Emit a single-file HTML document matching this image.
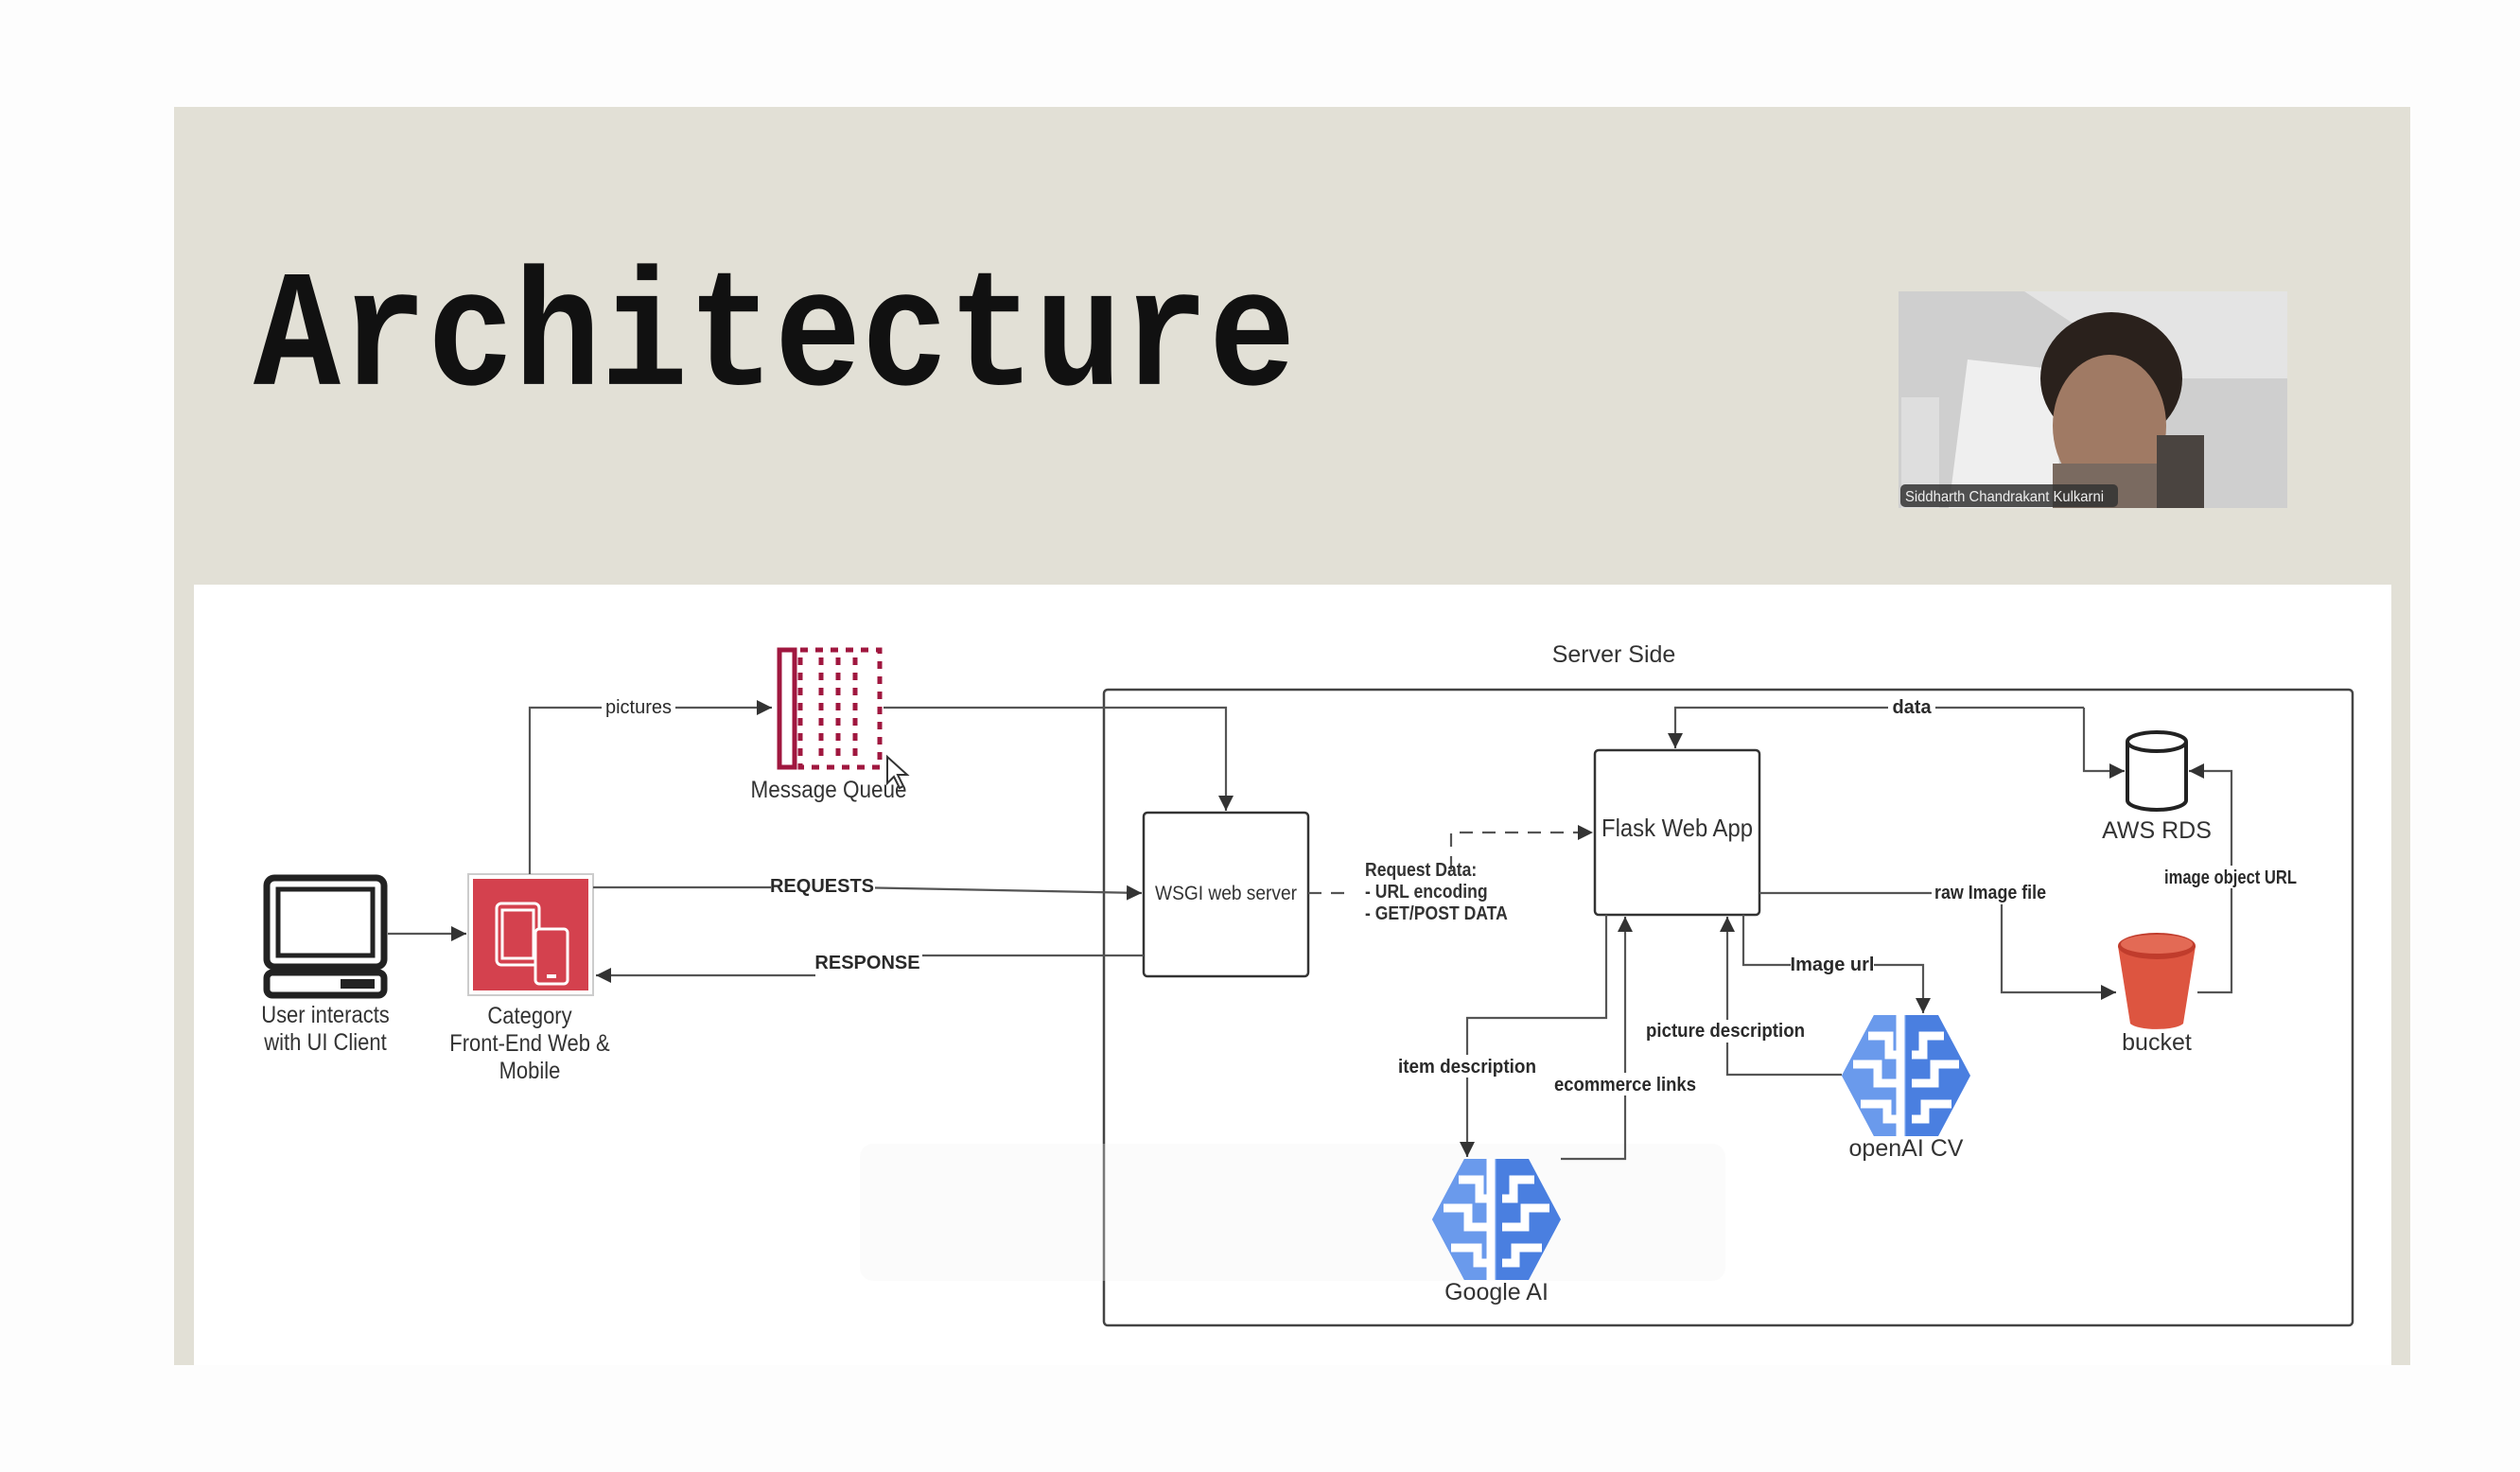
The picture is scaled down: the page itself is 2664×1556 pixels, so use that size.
<!DOCTYPE html>
<html><head><meta charset="utf-8"><style>
html,body{margin:0;padding:0;background:#fdfdfd;}
svg{display:block;}
text{font-family:"Liberation Sans Narrow","Liberation Sans",sans-serif;fill:#333;}
.lb{font-size:25px;text-anchor:middle;}
.el{font-size:20px;font-weight:bold;text-anchor:middle;fill:#2a2a2a;}
.ln{fill:none;stroke:#555;stroke-width:2.2;}
</style></head><body>
<svg width="2664" height="1556" viewBox="0 0 2664 1556" xmlns="http://www.w3.org/2000/svg">
<defs>
<marker id="b" viewBox="0 0 10 10" refX="10" refY="5" markerWidth="16" markerHeight="16" orient="auto" markerUnits="userSpaceOnUse"><path d="M0,0 L10,5 L0,10z" fill="#333"/></marker>
<g id="brain">
<polygon points="-68,0 -34,-64 34,-64 68,0 34,64 -34,64" fill="#4a7fe0"/>
<polygon points="-68,0 -34,-64 0,-64 0,64 -34,64" fill="#6a9aec"/>
<g fill="none" stroke="#fff" stroke-width="9">
<path d="M-6,-64 V64"/>
<path d="M-40,-42 H-18 V-22 H-6"/>
<path d="M-56,-12 H-30 V8 H-6"/>
<path d="M-48,30 H-20 V46 H-6"/>
<path d="M40,-42 H18 V-22 H6"/>
<path d="M56,-12 H30 V8 H6"/>
<path d="M48,30 H20 V46 H6"/>
</g>
</g>
</defs>
<rect x="184" y="113" width="2364" height="1330" fill="#e2e0d6"/>
<rect x="205" y="618" width="2323" height="825" fill="#ffffff"/>
<text x="268" y="406" style="font-family:'Liberation Mono',monospace;font-weight:bold;font-size:153px;fill:#111" transform="translate(0,-61) scale(1,1.15)">Architecture</text>
<g>
<rect x="2007" y="308" width="411" height="229" fill="#cfcfcf"/>
<polygon points="2007,308 2140,308 2280,400 2418,400 2418,308" fill="#e4e4e4"/>
<polygon points="2080,380 2170,390 2180,537 2060,537" fill="#efefef"/>
<rect x="2010" y="420" width="40" height="117" fill="#dedede"/>
<ellipse cx="2232" cy="400" rx="75" ry="70" fill="#2a211c"/>
<ellipse cx="2230" cy="450" rx="60" ry="75" fill="#a07a64"/>
<rect x="2170" y="490" width="120" height="47" fill="#7a6a60"/>
<rect x="2280" y="460" width="50" height="77" fill="#4a4440"/>
<rect x="2009" y="512" width="230" height="24" rx="5" fill="#333" opacity="0.85"/>
<text x="2014" y="530" textLength="210" lengthAdjust="spacingAndGlyphs" style="font-size:16px;fill:#eee;font-family:'Liberation Sans',sans-serif">Siddharth Chandrakant Kulkarni</text>
</g>
<rect x="1167" y="729" width="1320" height="672" rx="4" fill="none" stroke="#444" stroke-width="2.5"/>
<text class="lb" x="1706" y="700">Server Side</text>
<rect x="909" y="1209" width="915" height="145" rx="14" fill="#f3f3f3" opacity="0.3"/>
<g fill="none" stroke="#222" stroke-width="7">
<rect x="282" y="928" width="124" height="94" rx="8"/>
<rect x="294" y="940" width="100" height="70" stroke-width="5"/>
<rect x="282" y="1028" width="124" height="24" rx="6"/>
</g>
<rect x="360" y="1035" width="36" height="10" fill="#222"/>
<g transform="translate(344,0) scale(0.88,1)">
<text class="lb" x="0" y="1081">User interacts</text>
<text class="lb" x="0" y="1110">with UI Client</text>
</g>
<rect x="495" y="924" width="132" height="128" fill="#fff" stroke="#ccc" stroke-width="2"/>
<rect x="500" y="929" width="122" height="118" fill="#d4414e"/>
<g fill="none" stroke="#fff" stroke-width="3">
<rect x="525" y="955" width="45" height="65" rx="5"/>
<rect x="531" y="962" width="33" height="51"/>
<rect x="566" y="982" width="34" height="58" rx="4" fill="#d4414e"/>
</g>
<rect x="578" y="1030" width="10" height="4" fill="#fff"/>
<g transform="translate(560,0) scale(0.88,1)">
<text class="lb" x="0" y="1082">Category</text>
<text class="lb" x="0" y="1111">Front-End Web &amp;</text>
<text class="lb" x="0" y="1140">Mobile</text>
</g>
<rect x="824" y="687" width="16" height="124" fill="none" stroke="#a0173f" stroke-width="5"/>
<rect x="846" y="687" width="84" height="124" fill="none" stroke="#a0173f" stroke-width="5" stroke-dasharray="8,8"/>
<line x1="868" y1="695" x2="868" y2="805" stroke="#a0173f" stroke-width="5" stroke-dasharray="8,8"/>
<line x1="886" y1="695" x2="886" y2="805" stroke="#a0173f" stroke-width="5" stroke-dasharray="8,8"/>
<line x1="904" y1="695" x2="904" y2="805" stroke="#a0173f" stroke-width="5" stroke-dasharray="8,8"/>
<g transform="translate(876,0) scale(0.9,1)"><text class="lb" x="0" y="843">Message Queue</text></g>
<path d="M938,800 l0,28 l7,-7 l6,12 l4,-2 l-6,-12 l10,0z" fill="#fff" stroke="#333" stroke-width="2"/>
<rect x="1209" y="859" width="174" height="173" rx="4" fill="#fff" stroke="#333" stroke-width="2.5"/>
<text x="1296" y="951" textLength="150" lengthAdjust="spacingAndGlyphs" style="font-size:21px;text-anchor:middle">WSGI web server</text>
<rect x="1686" y="793" width="174" height="174" rx="4" fill="#fff" stroke="#333" stroke-width="2.5"/>
<text x="1773" y="884" textLength="160" lengthAdjust="spacingAndGlyphs" style="font-size:26px;text-anchor:middle">Flask Web App</text>
<g fill="#fff" stroke="#222" stroke-width="4">
<path d="M2249,784 V846 A31,10 0 0 0 2311,846 V784"/>
<ellipse cx="2280" cy="784" rx="31" ry="10"/>
</g>
<text class="lb" x="2280" y="886">AWS RDS</text>
<path d="M2239,1000 L2252,1082 A29,8 0 0 0 2308,1082 L2321,1000z" fill="#dd5540"/>
<ellipse cx="2280" cy="1000" rx="41" ry="14" fill="#c03c2c"/>
<ellipse cx="2280" cy="998" rx="38" ry="10" fill="#e36a55"/>
<text class="lb" x="2280" y="1110">bucket</text>
<use href="#brain" x="2015" y="1137"/>
<text class="lb" x="2015" y="1222">openAI CV</text>
<use href="#brain" x="1582" y="1289"/>
<text class="lb" x="1582" y="1374">Google AI</text>
<line class="ln" x1="410" y1="987" x2="493" y2="987" marker-end="url(#b)"/>
<path class="ln" d="M560,924 V748 H816" marker-end="url(#b)"/>
<path class="ln" d="M934,748 H1296 V857" marker-end="url(#b)"/>
<path class="ln" d="M627,938 H900 L1207,944" marker-end="url(#b)"/>
<path class="ln" d="M1209,1010 H975"/>
<path class="ln" d="M862,1031 H630" marker-end="url(#b)"/>
<path class="ln" d="M1383,944 H1430" stroke-dasharray="14,10"/>
<path class="ln" d="M1534,919 V880 H1684" stroke-dasharray="14,10" marker-end="url(#b)"/>
<path class="ln" d="M2203,748 V815 H2246" marker-end="url(#b)"/>
<path class="ln" d="M2203,748 H1771 V791" marker-end="url(#b)"/>
<path class="ln" d="M2323,1049 H2359 V815 H2314" marker-end="url(#b)"/>
<path class="ln" d="M1860,944 H2116 V1049 H2237" marker-end="url(#b)"/>
<path class="ln" d="M1843,967 V1020 H2033 V1071" marker-end="url(#b)"/>
<path class="ln" d="M1947,1136 H1826 V969" marker-end="url(#b)"/>
<path class="ln" d="M1698,967 V1076 H1551 V1223" marker-end="url(#b)"/>
<path class="ln" d="M1650,1225 H1718 V969" marker-end="url(#b)"/>
<g>
<rect x="636" y="735" width="78" height="24" fill="#fff"/><text class="el" x="675" y="754" style="font-weight:normal">pictures</text>
<rect x="815" y="925" width="110" height="24" fill="#fff"/><text class="el" x="869" y="943">REQUESTS</text>
<rect x="860" y="1005" width="115" height="24" fill="#fff"/><text class="el" x="917" y="1024">RESPONSE</text>
<g transform="translate(1443,0) scale(0.88,1)">
<text x="0" y="926" style="font-size:20px;font-weight:bold">Request Data:</text>
<text x="0" y="949" style="font-size:20px;font-weight:bold">- URL encoding</text>
<text x="0" y="972" style="font-size:20px;font-weight:bold">- GET/POST DATA</text>
</g>
<rect x="1996" y="736" width="50" height="24" fill="#fff"/><text class="el" x="2021" y="754">data</text>
<rect x="2042" y="932" width="126" height="24" fill="#fff"/><text class="el" x="2104" y="950" textLength="118" lengthAdjust="spacingAndGlyphs">raw Image file</text>
<rect x="2285" y="915" width="150" height="24" fill="#fff"/><text class="el" x="2358" y="934" textLength="140" lengthAdjust="spacingAndGlyphs">image object URL</text>
<rect x="1893" y="1008" width="88" height="24" fill="#fff"/><text class="el" x="1937" y="1026">Image url</text>
<rect x="1737" y="1078" width="175" height="24" fill="#fff"/><text class="el" x="1824" y="1096" textLength="168" lengthAdjust="spacingAndGlyphs">picture description</text>
<rect x="1475" y="1115" width="152" height="24" fill="#fff"/><text class="el" x="1551" y="1134" textLength="146" lengthAdjust="spacingAndGlyphs">item description</text>
<rect x="1640" y="1134" width="156" height="24" fill="#fff"/><text class="el" x="1718" y="1153" textLength="150" lengthAdjust="spacingAndGlyphs">ecommerce links</text>
</g>
</svg>
</body></html>
